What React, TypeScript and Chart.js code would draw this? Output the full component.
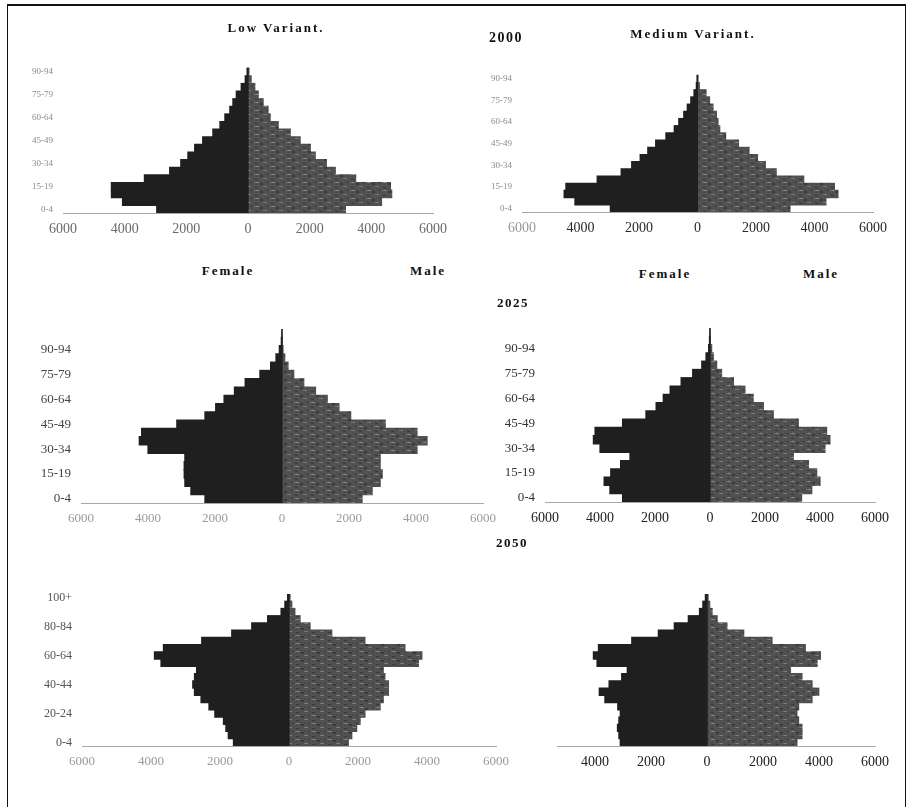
import React, { useEffect, useRef } from 'react';
import { Chart, registerables } from 'chart.js';

Chart.register(...registerables);
Chart.defaults.font.family = "'Liberation Serif', 'DejaVu Serif', serif";

// ---------- data (thousands) ----------
const ageGroups = [
  '0-4', '5-9', '10-14', '15-19', '20-24', '25-29', '30-34', '35-39', '40-44', '45-49',
  '50-54', '55-59', '60-64', '65-69', '70-74', '75-79', '80-84', '85-89', '90-94', '95-99', '100+',
];

const female2000Low = [2960, 4070, 4430, 4430, 3360, 2540, 2180, 1950, 1730, 1470, 1140, 910, 750, 590, 490, 380, 220, 90, 30, 0, 0];
const male2000Low = [3160, 4330, 4660, 4620, 3490, 2830, 2540, 2180, 2020, 1690, 1370, 980, 720, 650, 490, 330, 220, 100, 30, 0, 0];

const female2000Medium = [2980, 4190, 4560, 4500, 3430, 2610, 2250, 1960, 1700, 1430, 1080, 795, 640, 470, 350, 230, 120, 40, 15, 0, 0];
const male2000Medium = [3160, 4390, 4800, 4680, 3630, 2690, 2320, 2050, 1760, 1400, 960, 760, 700, 645, 530, 410, 290, 60, 15, 0, 0];

const female2025Low = [2300, 2720, 2900, 2920, 2920, 2900, 4000, 4260, 4190, 3140, 2300, 1980, 1730, 1420, 1100, 660, 340, 180, 80, 20, 5];
const male2025Low = [2390, 2690, 2930, 2990, 2930, 2930, 4030, 4330, 4030, 3080, 2050, 1700, 1350, 1000, 650, 350, 180, 80, 30, 10, 3];

const female2025Medium = [3180, 3640, 3850, 3610, 3250, 2910, 4000, 4240, 4180, 3180, 2330, 1960, 1700, 1450, 1050, 630, 300, 145, 50, 20, 5];
const male2025Medium = [3330, 3700, 4000, 3880, 3580, 3030, 4180, 4360, 4240, 3210, 2300, 1940, 1570, 1270, 850, 420, 240, 120, 60, 15, 3];

const female2050Low = [1610, 1760, 1830, 1900, 2150, 2320, 2550, 2740, 2790, 2740, 2680, 3710, 3900, 3640, 2530, 1660, 1080, 620, 230, 120, 40];
const male2050Low = [1720, 1820, 1960, 2060, 2200, 2640, 2730, 2880, 2880, 2780, 2730, 3750, 3850, 3360, 2200, 1240, 610, 320, 170, 80, 30];

const female2050Medium = [3100, 3150, 3200, 3150, 3100, 3190, 3650, 3850, 3500, 3050, 2850, 3930, 4060, 3880, 2690, 1740, 1170, 670, 270, 150, 60];
const male2050Medium = [3210, 3390, 3390, 3270, 3210, 3270, 3750, 3990, 3750, 3390, 2980, 3930, 4050, 3510, 2320, 1310, 710, 360, 180, 95, 35];

const xTicksFull = [-6000, -4000, -2000, 0, 2000, 4000, 6000];
const xTicksNoLeftEnd = [-4000, -2000, 0, 2000, 4000, 6000];

// ---------- layout / style ----------
type Panel = {
  key: string;
  female: number[];
  male: number[];
  areaL: number;
  areaR: number;
  areaB: number;
  cat: number;
  xMin: number;
  xMax: number;
  xTicks: number[];
  labelStep: number;
  showY: boolean;
  yW: number;
  yFont: number;
  yColor: string;
  xFont: number;
  xColor: string;
  xFirstColor?: string;
};

const panels: Panel[] = [
  { key: 'p1', female: female2000Low, male: male2000Low, areaL: 63, areaR: 433, areaB: 213, cat: 7.6, xMin: -6000, xMax: 6000, xTicks: xTicksFull, labelStep: 3, showY: true, yW: 50, yFont: 9, yColor: '#8a8a8a', xFont: 14, xColor: '#6a6a6a' },
  { key: 'p2', female: female2000Medium, male: male2000Medium, areaL: 522, areaR: 873, areaB: 212, cat: 7.17, xMin: -6000, xMax: 6000, xTicks: xTicksFull, labelStep: 3, showY: true, yW: 45, yFont: 9, yColor: '#8a8a8a', xFont: 14, xColor: '#2a2a2a', xFirstColor: '#9a9a9a' },
  { key: 'p3', female: female2025Low, male: male2025Low, areaL: 81, areaR: 483, areaB: 503, cat: 8.28, xMin: -6000, xMax: 6000, xTicks: xTicksFull, labelStep: 3, showY: true, yW: 60, yFont: 13, yColor: '#444', xFont: 13, xColor: '#9a9a9a' },
  { key: 'p4', female: female2025Medium, male: male2025Medium, areaL: 545, areaR: 875, areaB: 502, cat: 8.28, xMin: -6000, xMax: 6000, xTicks: xTicksFull, labelStep: 3, showY: true, yW: 60, yFont: 13, yColor: '#333', xFont: 14, xColor: '#222' },
  { key: 'p5', female: female2050Low, male: male2050Low, areaL: 82, areaR: 496, areaB: 746, cat: 7.25, xMin: -6000, xMax: 6000, xTicks: xTicksFull, labelStep: 4, showY: true, yW: 60, yFont: 12, yColor: '#555', xFont: 13, xColor: '#9a9a9a' },
  { key: 'p6', female: female2050Medium, male: male2050Medium, areaL: 557, areaR: 875, areaB: 746, cat: 7.25, xMin: -5360, xMax: 6000, xTicks: xTicksNoLeftEnd, labelStep: 4, showY: false, yW: 0, yFont: 12, yColor: '#555', xFont: 14, xColor: '#222' },
];

const PAD_TOP = 24;
const PAD_RIGHT = 40;
const PAD_LEFT_NOY = 40;
const X_AXIS_H = 30;

function makeMalePattern(): CanvasPattern | string {
  const c = document.createElement('canvas');
  c.width = 16;
  c.height = 8;
  const g = c.getContext('2d');
  if (!g) return '#555';
  g.fillStyle = '#505050';
  g.fillRect(0, 0, 16, 8);
  g.fillStyle = '#737373';
  g.fillRect(1, 1, 5, 1);
  g.fillRect(10, 5, 4, 1);
  g.fillStyle = '#8c8c8c';
  g.fillRect(3, 1, 2, 1);
  g.fillRect(12, 5, 1, 1);
  g.fillStyle = '#3a3a3a';
  g.fillRect(7, 2, 3, 2);
  g.fillRect(2, 6, 3, 1);
  g.fillRect(14, 1, 2, 1);
  return g.createPattern(c, 'repeat') || '#555';
}

const inflate = (ctx: any) => (ctx.raw === 0 ? 0 : 0.6);

function Pyramid({ p }: { p: Panel }) {
  const ref = useRef<HTMLCanvasElement | null>(null);
  const areaT = p.areaB - p.cat * ageGroups.length;
  const padL = p.showY ? 0 : PAD_LEFT_NOY;
  const left = p.areaL - p.yW - padL;
  const top = areaT - PAD_TOP;
  const width = p.areaR + PAD_RIGHT - left;
  const height = p.areaB + X_AXIS_H - top;

  useEffect(() => {
    if (!ref.current) return;
    const malePattern = makeMalePattern();
    const chart = new Chart(ref.current, {
      type: 'bar',
      data: {
        labels: ageGroups,
        datasets: [
          {
            label: 'Female',
            data: p.female.map((v) => -v),
            backgroundColor: '#1f1f1f',
            borderWidth: 0,
            inflateAmount: inflate,
            barPercentage: 1,
            categoryPercentage: 1,
          },
          {
            label: 'Male',
            data: p.male,
            backgroundColor: malePattern as any,
            borderWidth: 0,
            inflateAmount: inflate,
            barPercentage: 1,
            categoryPercentage: 1,
          },
        ],
      },
      options: {
        indexAxis: 'y',
        responsive: false,
        maintainAspectRatio: false,
        animation: false,
        layout: { padding: { left: padL, right: PAD_RIGHT, top: PAD_TOP, bottom: 0 } },
        plugins: {
          legend: { display: false },
          tooltip: { enabled: false },
          title: { display: false },
        },
        scales: {
          x: {
            type: 'linear',
            stacked: true,
            min: p.xMin,
            max: p.xMax,
            afterBuildTicks: (s: any) => {
              s.ticks = p.xTicks.map((v) => ({ value: v }));
            },
            afterFit: (s: any) => {
              s.height = X_AXIS_H;
            },
            grid: { display: false, drawTicks: false },
            border: { display: true, color: '#a8a8a8', dash: [2, 2], width: 1 },
            ticks: {
              padding: 8,
              font: { size: p.xFont },
              color: (ctx: any) => (p.xFirstColor && ctx.index === 0 ? p.xFirstColor : p.xColor),
              callback: (v: any) => String(Math.abs(Number(v))),
            },
          },
          y: {
            type: 'category',
            stacked: true,
            reverse: true,
            display: p.showY,
            afterFit: (s: any) => {
              s.width = p.yW;
            },
            grid: { display: false, drawTicks: false },
            border: { display: false },
            ticks: {
              autoSkip: false,
              padding: 10,
              font: { size: p.yFont },
              color: p.yColor,
              callback: (_v: any, i: number) => (i % p.labelStep === 0 ? ageGroups[i] : ''),
            },
          },
        },
      } as any,
    });
    return () => chart.destroy();
  }, [p]);

  return (
    <canvas
      ref={ref}
      width={Math.round(width)}
      height={Math.round(height)}
      style={{ position: 'absolute', left: Math.round(left), top: Math.round(top), width: Math.round(width), height: Math.round(height) }}
    />
  );
}

const labelBase: React.CSSProperties = {
  position: 'absolute',
  transform: 'translate(-50%, -50%)',
  fontFamily: "'Liberation Serif', serif",
  fontWeight: 'bold',
  color: '#111',
  whiteSpace: 'nowrap',
  lineHeight: 1,
};

const texts = [
  { t: 'Low Variant.', x: 276, y: 27, size: 13, ls: 2 },
  { t: 'Medium Variant.', x: 693, y: 33, size: 13, ls: 2 },
  { t: '2000', x: 506, y: 38, size: 14, ls: 1.5 },
  { t: 'Female', x: 228, y: 270, size: 13, ls: 2 },
  { t: 'Male', x: 428, y: 270, size: 13, ls: 2 },
  { t: 'Female', x: 665, y: 273, size: 13, ls: 2 },
  { t: 'Male', x: 821, y: 273, size: 13, ls: 2 },
  { t: '2025', x: 513, y: 302, size: 13, ls: 1.5 },
  { t: '2050', x: 512, y: 542, size: 13, ls: 1.5 },
];

export default function App() {
  return (
    <div style={{ position: 'absolute', left: 0, top: 0, width: 909, height: 807, background: '#fff', overflow: 'hidden' }}>
      <div
        style={{
          position: 'absolute',
          left: 7,
          top: 4,
          width: 899,
          height: 810,
          borderLeft: '1.5px solid #111',
          borderTop: '2px solid #111',
          borderRight: '1.5px solid #111',
          boxSizing: 'border-box',
        }}
      />
      {panels.map((p) => (
        <Pyramid key={p.key} p={p} />
      ))}
      {texts.map((d, i) => (
        <div key={i} style={{ ...labelBase, left: d.x, top: d.y, fontSize: d.size, letterSpacing: d.ls }}>
          {d.t}
        </div>
      ))}
    </div>
  );
}
